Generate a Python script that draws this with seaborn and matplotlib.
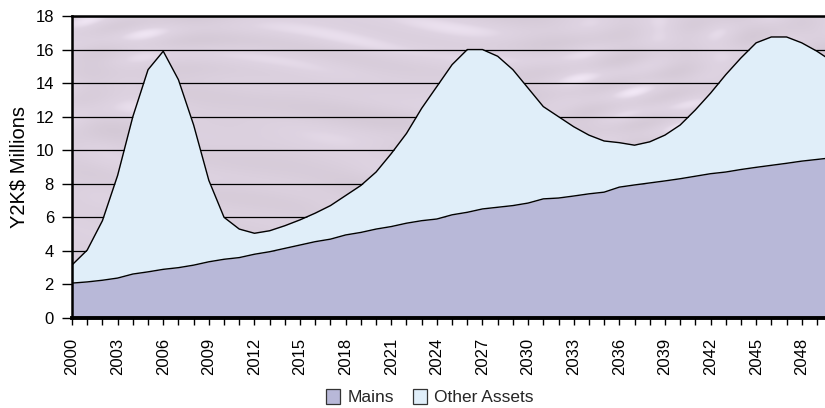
import numpy as np
import pandas as pd
import matplotlib
matplotlib.use("Agg")
import matplotlib.pyplot as plt
from matplotlib.patches import Patch
import seaborn as sns

# Asset expenditure forecast, Y2K$ millions
years = list(range(2000, 2051))
mains = [2.08, 2.15, 2.25, 2.38, 2.62, 2.75, 2.90, 3.00, 3.15, 3.35,
         3.50, 3.60, 3.80, 3.95, 4.15, 4.35, 4.55, 4.70, 4.95, 5.10,
         5.30, 5.45, 5.65, 5.80, 5.90, 6.15, 6.30, 6.50, 6.60, 6.70,
         6.85, 7.10, 7.15, 7.27, 7.40, 7.50, 7.80, 7.93, 8.05, 8.17,
         8.30, 8.45, 8.60, 8.70, 8.85, 8.98, 9.10, 9.22, 9.35, 9.45,
         9.55]
other_assets = [1.08, 1.90, 3.55, 6.12, 9.38, 12.05, 13.00, 11.20, 8.35, 4.85,
                2.50, 1.70, 1.25, 1.25, 1.35, 1.50, 1.70, 2.00, 2.35, 2.80,
                3.40, 4.35, 5.35, 6.70, 7.90, 8.95, 9.70, 9.50, 9.00, 8.10,
                6.85, 5.50, 4.85, 4.13, 3.50, 3.05, 2.65, 2.37, 2.45, 2.73,
                3.20, 3.95, 4.80, 5.80, 6.65, 7.42, 7.65, 7.53, 7.05, 6.45,
                5.75]
y_ticks = list(range(0, 19, 2))
x_labels = list(range(2000, 2049, 3))

series_names = ["Mains", "Other Assets"]
series_colors = ["#B8B8D8", "#E0EEF9"]

df = pd.DataFrame({"Year": years, "Mains": mains, "Other Assets": other_assets})
df["Total"] = df["Mains"] + df["Other Assets"]

sns.set_theme(style="white")
plt.rcParams["font.family"] = ["Liberation Sans", "DejaVu Sans"]

fig = plt.figure(figsize=(8.25, 4.08), dpi=100)
ax = fig.add_axes([0.0873, 0.2206, 0.9127, 0.7402])

# marble-like backdrop for the plot area
gx, gy = np.meshgrid(np.linspace(0, 1, 600), np.linspace(0, 1, 300))
warp = np.sin(gx * 7.3 + gy * 3.1) * 1.7 + np.sin(gy * 5.7 - gx * 2.3) * 1.3
swirl = (np.sin(gx * 19 + warp * 2.0 + gy * 4) * np.sin(gy * 33 + warp * 1.5)
         + 0.7 * np.sin(gx * 43 - gy * 17 + warp * 3.0)
         + 0.5 * np.sin(gy * 59 + gx * 9 + warp * 2.5))
swirl = swirl / np.abs(swirl).max()
veins = np.clip(swirl, 0.45, 1.0) - 0.45
base = np.array([219, 208, 222]) / 255.0
tint = np.array([7, 7, 8]) / 255.0
tex = base[None, None, :] + swirl[..., None] * tint[None, None, :] \
    + veins[..., None] * np.array([30, 32, 30])[None, None, :] / 255.0
tex = np.clip(tex, 0, 1)
ax.imshow(tex, extent=[0, 1, 0, 1], transform=ax.transAxes, aspect="auto",
          zorder=0, interpolation="bicubic")

# horizontal gridlines behind the areas
for yv in y_ticks[1:]:
    ax.axhline(yv, color="black", lw=0.9, zorder=1)

ax.fill_between(df["Year"], 0, df["Mains"], color=series_colors[0], lw=0, zorder=2)
ax.fill_between(df["Year"], df["Mains"], df["Total"], color=series_colors[1], lw=0, zorder=2)
sns.lineplot(data=df, x="Year", y="Mains", color="black", lw=1.0, ax=ax, zorder=3)
sns.lineplot(data=df, x="Year", y="Total", color="black", lw=1.0, ax=ax, zorder=3)

ax.set_xlim(2000, 2049.53)
ax.set_ylim(0, 18)
ax.set_yticks(y_ticks)
ax.set_yticklabels([str(v) for v in y_ticks], fontsize=12)
ax.set_xticks(x_labels)
ax.set_xticklabels([str(v) for v in x_labels], rotation=90, fontsize=12)
ax.set_xticks(years[:-1], minor=True)
ax.tick_params(axis="y", which="major", direction="out", length=7, width=1,
               color="black", left=True, pad=6, labelcolor="black")
ax.tick_params(axis="x", which="both", direction="out", length=5, width=1,
               color="black", bottom=True, pad=9, labelcolor="black")
ax.set_xlabel("")
ax.set_ylabel("Y2K$ Millions", fontsize=14.5, color="black", labelpad=5)

for side in ["left", "top"]:
    ax.spines[side].set_visible(True)
    ax.spines[side].set_color("black")
    ax.spines[side].set_linewidth(1.8)
ax.spines["bottom"].set_color("black")
ax.spines["bottom"].set_linewidth(2.8)
ax.spines["right"].set_visible(False)
for s in ax.spines.values():
    s.set_zorder(5)

handles = [Patch(facecolor=c, edgecolor="#333333", lw=0.9) for c in series_colors]
fig.legend(handles, series_names, loc="center", bbox_to_anchor=(0.521, 0.026),
           ncol=2, frameon=False, fontsize=12.5, handlelength=0.8, handleheight=0.9,
           handletextpad=0.4, columnspacing=1.1, borderpad=0.1)

fig.savefig("out.png", dpi=100)
